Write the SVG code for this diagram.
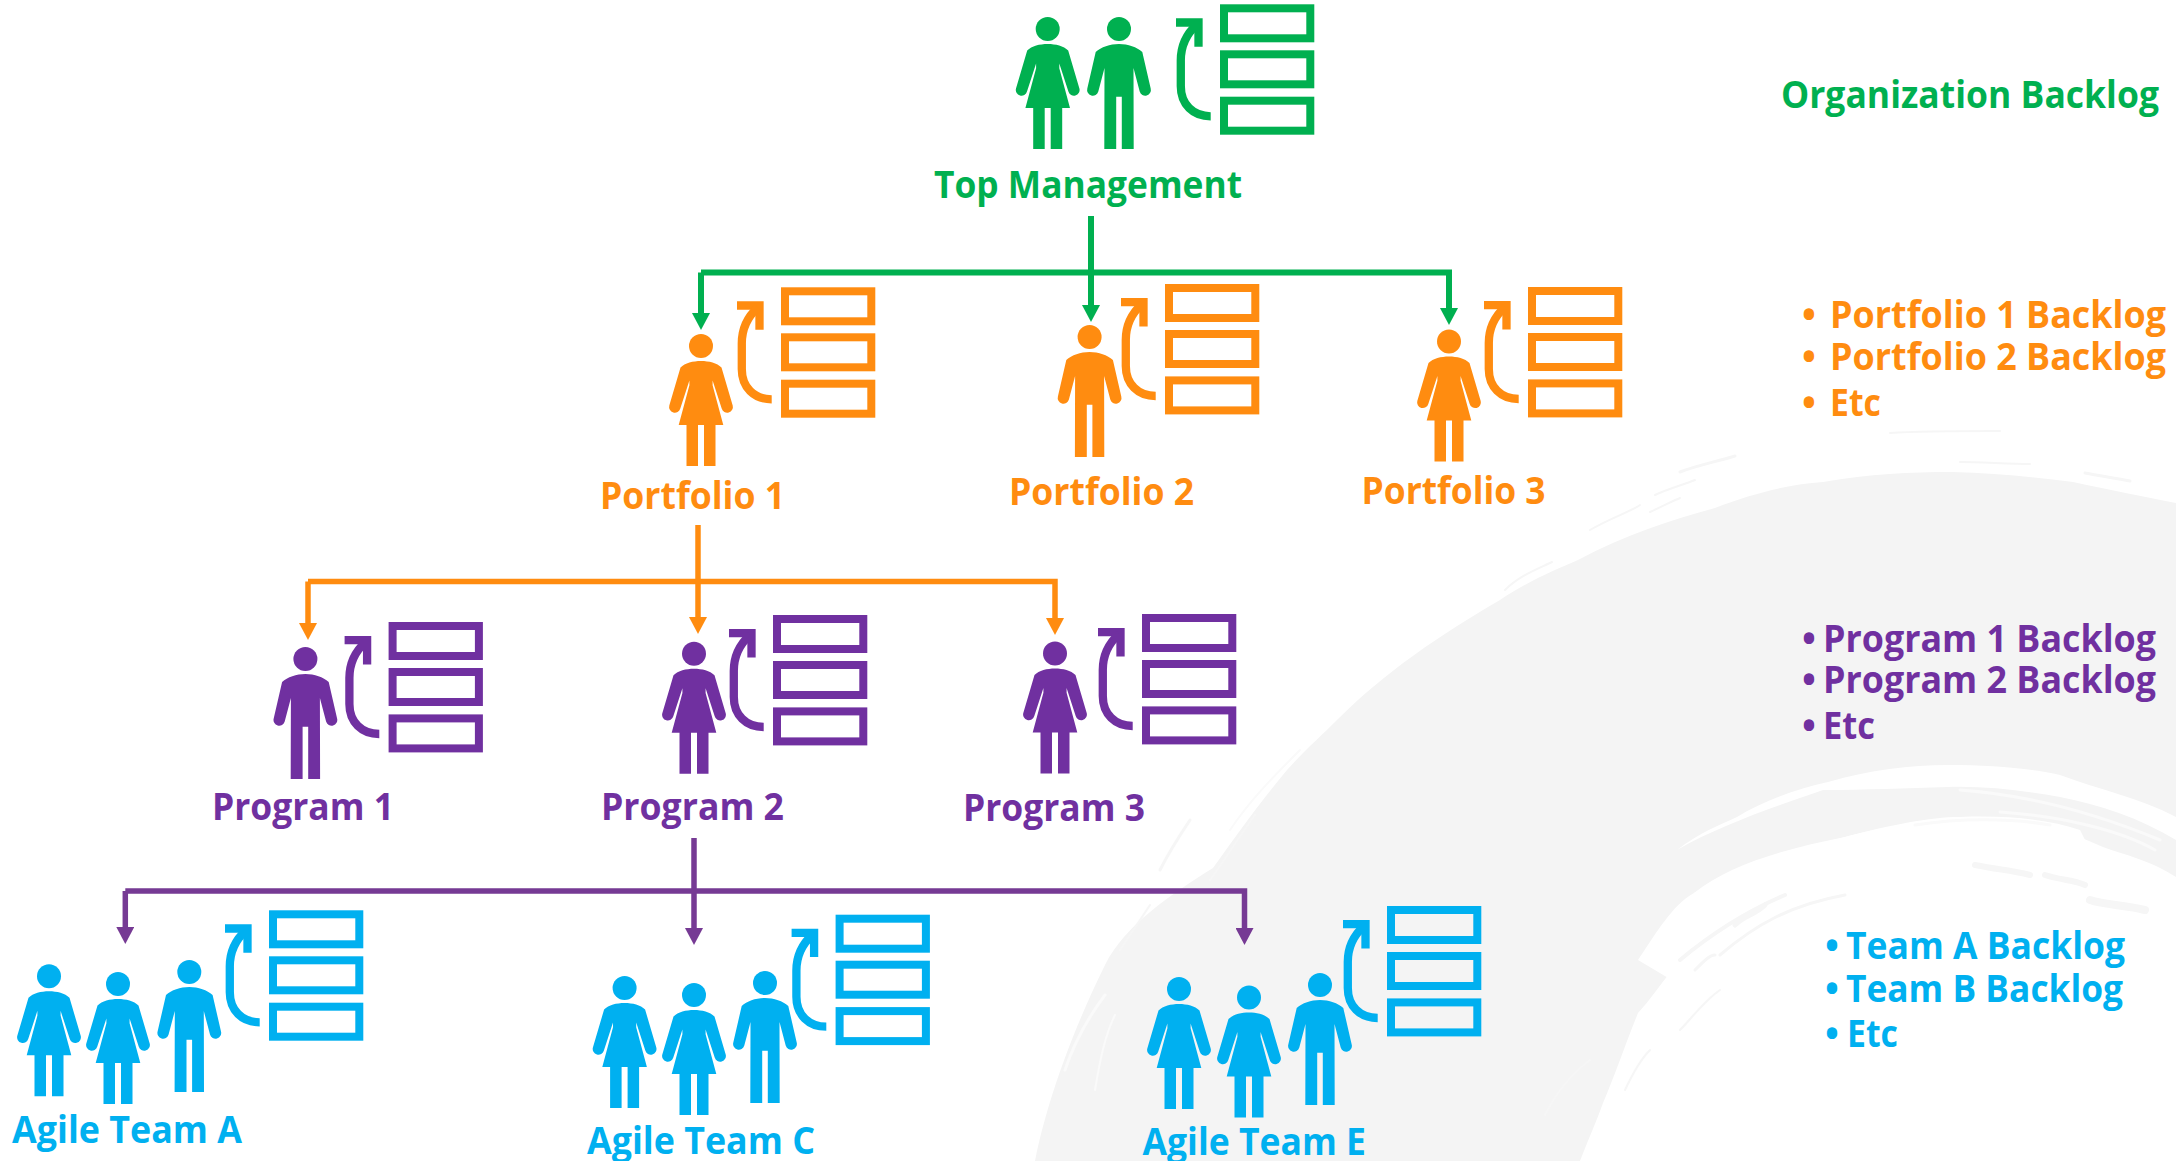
<svg xmlns="http://www.w3.org/2000/svg" xmlns:xlink="http://www.w3.org/1999/xlink" width="2176" height="1161" viewBox="0 0 2176 1161">
<style>
.green{color:#00B050;fill:#00B050}
.orange{color:#FF8C10;fill:#FF8C10}
.purple{color:#7030A0;fill:#7030A0}
.blue{color:#00B0F0;fill:#00B0F0}
text{font-family:"Open Sans","Noto Sans","Liberation Sans",sans-serif;font-weight:700;font-size:37px}
.link{fill:none;stroke-width:5.5}
.sg{fill:none;stroke:#F6F6F6;stroke-linecap:round}
.sw{fill:none;stroke:#FAFAFA;stroke-linecap:round}
</style>
<defs>
<g id="female" fill="currentColor"><circle cx="0" cy="0" r="12"/><path d="M0 15C8 15 16 17 20.500 21.500L31.700 59.500A5.700 5.700 0 0 1 20.700 62.500L11.600 34.500 11.600 39.300 22.300 79 14.500 79 14.500 120 3 120 3 79-3 79-3 120-14.500 120-14.500 79-22.300 79-11.600 39.300-11.600 34.500-20.700 62.500A5.700 5.700 0 0 1-31.700 59.500L-20.500 21.500C-16 17-8 15 0 15Z"/></g>
<g id="male" fill="currentColor"><circle cx="0" cy="0" r="12"/><path d="M0 15C9 15 18 18 23.300 23L31.700 59.500A5.700 5.700 0 0 1 20.700 62.500L14.500 39 14.700 120 2.800 120 2.800 67.700-2.800 67.700-2.800 120-14.700 120-14.500 39-20.700 62.500A5.700 5.700 0 0 1-31.700 59.500L-23.300 23C-18 18-9 15 0 15Z"/></g>
<g id="backlog" fill="none" stroke="currentColor" stroke-width="8"><rect x="4" y="4" width="86.300" height="30"/><rect x="4" y="50" width="86.300" height="30"/><rect x="4" y="96.400" width="86.300" height="30"/><path d="M-44 18.200H-21.500V42.400" stroke-width="8.300"/><path d="M-9.300 112C-27 112-39.200 100-39.200 82V56C-39.200 42-33 29-23 20" stroke-width="8.300"/></g>
<marker id="ahG" markerUnits="userSpaceOnUse" markerWidth="18" markerHeight="18" refX="0" refY="9" orient="auto"><path d="M0 0L17 9 0 18Z" fill="#00B050"/></marker>
<marker id="ahO" markerUnits="userSpaceOnUse" markerWidth="18" markerHeight="18" refX="0" refY="9" orient="auto"><path d="M0 0L17 9 0 18Z" fill="#FF8C10"/></marker>
<marker id="ahP" markerUnits="userSpaceOnUse" markerWidth="18" markerHeight="18" refX="0" refY="9" orient="auto"><path d="M0 0L17 9 0 18Z" fill="#763A94"/></marker>
</defs>
<rect width="2176" height="1161" fill="#FFFFFF"/>
<g id="background">
<path fill="#F4F4F4" d="M1035 1161C1045 1110 1068 1040 1105 965C1125 925 1170 895 1213 868C1240 830 1262 800 1287 770C1305 750 1322 735 1337 720C1385 672 1440 635 1500 600C1530 580 1555 570 1578 560C1625 535 1670 520 1715 508C1750 494 1790 484 1823 482C1870 474 1910 472 1952 472C1995 473 2035 477 2073 482C2110 490 2145 497 2176 503V877C2150 860 2125 855 2103 847C2075 835 2045 822 2017 820C1985 818 1960 818 1931 820C1900 825 1870 830 1845 837C1815 845 1785 852 1759 863C1735 872 1715 882 1694 893C1685 915 1680 945 1672 970C1660 985 1650 1000 1638 1013C1625 1045 1615 1075 1603 1103C1595 1125 1588 1140 1580 1161Z"/>
<path fill="#FFFFFF" d="M1677 850C1700 832 1720 825 1737 817C1765 800 1800 788 1828 782C1870 770 1910 765 1948 765C1990 765 2030 768 2060 775C2100 790 2140 798 2176 817V840C2140 818 2100 805 2060 797C2020 790 1985 786 1948 787C1905 788 1865 790 1823 790C1780 805 1720 825 1677 850Z"/>
<path fill="#FFFFFF" d="M1638 960C1655 935 1672 905 1694 893C1730 865 1780 850 1845 837C1890 825 1930 817 1960 817C2010 815 2050 820 2080 830L2090 850 1900 865 1780 905 1680 985Z"/>
<g class="sg">
<path stroke-width="4" d="M1680 960C1710 935 1745 912 1785 895"/>
<path stroke-width="3" d="M1720 955C1755 925 1790 905 1845 895"/>
<path stroke-width="5" d="M1735 925C1745 915 1755 915 1765 905"/>
<path stroke-width="3" d="M1695 970C1705 960 1710 955 1715 955"/>
<path stroke-width="6" d="M1975 865C2000 870 2010 870 2030 875"/>
<path stroke-width="6" d="M2045 875C2060 880 2075 880 2085 885"/>
<path stroke-width="8" d="M2090 900C2105 905 2125 905 2145 910"/>
<path stroke-width="2" d="M1680 1030C1690 1020 1705 1000 1720 990"/>
<path stroke-width="2" d="M1625 1090C1632 1075 1640 1060 1650 1050"/>
<path stroke-width="2" d="M1545 1115C1555 1095 1570 1075 1590 1060"/>
<path stroke-width="2" d="M1890 433C1920 431 1960 431 2000 431"/>
<path stroke-width="2" d="M1960 462C1980 462 2010 464 2030 464"/>
<path stroke-width="3" d="M1680 472C1695 466 1715 462 1735 456"/>
<path stroke-width="2" d="M1655 495C1670 488 1680 486 1695 480"/>
<path stroke-width="2" d="M1590 530C1610 518 1630 512 1640 505"/>
<path stroke-width="2" d="M1650 512C1665 505 1675 500 1680 498"/>
<path stroke-width="3" d="M2085 473C2100 476 2115 478 2130 481"/>
<path stroke-width="2" d="M1505 590C1520 575 1540 568 1552 562"/>
<path stroke-width="2" d="M1210 880C1225 860 1240 835 1255 815"/>
<path stroke-width="3" d="M1160 870C1170 850 1180 835 1190 820"/>
<path stroke-width="2" d="M1120 950C1130 935 1140 920 1150 905"/>
</g>
<g class="sw">
<path stroke="#FFFFFF" stroke-width="4" d="M1830 870C1860 862 1890 858 1910 855"/>
<path stroke="#FFFFFF" stroke-width="3" d="M1895 850C1940 842 1985 842 2010 846"/>
<path stroke="#FFFFFF" stroke-width="4" d="M1990 830C2040 835 2080 850 2100 855"/>
<path stroke-width="3" d="M2000 812C2060 816 2120 830 2155 850"/>
<path stroke-width="3" d="M1960 790C2030 795 2100 815 2160 840"/>
<path stroke-width="3" d="M1915 825C1960 818 2010 818 2050 825"/>
<path stroke-width="3" d="M1065 1070C1075 1040 1090 1015 1105 995"/>
<path stroke-width="2" d="M1095 1090C1100 1060 1105 1035 1115 1015"/>
<path stroke-width="2" d="M1230 830C1250 800 1275 775 1300 750"/>
</g>
</g>
<g id="connectors">
<path class="link" style="stroke-width:6" stroke="#00B050" d="M1091 216V305" marker-end="url(#ahG)"/>
<path class="link" style="stroke-width:6" stroke="#00B050" d="M701 272.500H1449V308" marker-end="url(#ahG)"/>
<path class="link" style="stroke-width:6" stroke="#00B050" d="M701 272.500V313" marker-end="url(#ahG)"/>
<path class="link" stroke="#FF8C10" d="M698 525V617" marker-end="url(#ahO)"/>
<path class="link" stroke="#FF8C10" d="M308 581.500H1055V618" marker-end="url(#ahO)"/>
<path class="link" stroke="#FF8C10" d="M308 581.500V623" marker-end="url(#ahO)"/>
<path class="link" stroke="#763A94" d="M694 838V928" marker-end="url(#ahP)"/>
<path class="link" stroke="#763A94" d="M125.300 891H1244.500V928" marker-end="url(#ahP)"/>
<path class="link" stroke="#763A94" d="M125.300 891V927" marker-end="url(#ahP)"/>
</g>
<g id="top-management" class="green">
<use href="#female" x="1047.700" y="29"/><use href="#male" x="1119" y="29"/><use href="#backlog" x="1220" y="4.300"/>
<text x="934" y="197.700" textLength="308" lengthAdjust="spacingAndGlyphs">Top Management</text>
</g>
<g id="portfolio-1" class="orange">
<use href="#female" x="701" y="346"/><use href="#backlog" x="781" y="287.300"/>
<text x="600" y="509" textLength="185" lengthAdjust="spacingAndGlyphs">Portfolio 1</text>
</g>
<g id="portfolio-2" class="orange">
<use href="#male" x="1089.600" y="337"/><use href="#backlog" x="1165" y="284"/>
<text x="1009" y="505" textLength="185" lengthAdjust="spacingAndGlyphs">Portfolio 2</text>
</g>
<g id="portfolio-3" class="orange">
<use href="#female" x="1449" y="341.400"/><use href="#backlog" x="1528" y="287"/>
<text x="1361.600" y="503.700" textLength="184" lengthAdjust="spacingAndGlyphs">Portfolio 3</text>
</g>
<g id="program-1" class="purple">
<use href="#male" x="305.400" y="659"/><use href="#backlog" x="388.600" y="622"/>
<text x="212" y="820" textLength="182" lengthAdjust="spacingAndGlyphs">Program 1</text>
</g>
<g id="program-2" class="purple">
<use href="#female" x="694" y="653.800"/><use href="#backlog" x="773" y="615"/>
<text x="601" y="820" textLength="183" lengthAdjust="spacingAndGlyphs">Program 2</text>
</g>
<g id="program-3" class="purple">
<use href="#female" x="1055" y="653.500"/><use href="#backlog" x="1142" y="614"/>
<text x="963" y="821" textLength="182" lengthAdjust="spacingAndGlyphs">Program 3</text>
</g>
<g id="team-a" class="blue">
<use href="#female" x="49" y="976.300"/><use href="#female" x="118" y="984"/><use href="#male" x="189.300" y="972"/><use href="#backlog" x="269" y="910.300"/>
<text x="12" y="1142.700" textLength="230" lengthAdjust="spacingAndGlyphs">Agile Team A</text>
</g>
<g id="team-c" class="blue">
<use href="#female" x="624.600" y="988"/><use href="#female" x="694" y="995"/><use href="#male" x="765" y="983"/><use href="#backlog" x="835.600" y="914.700"/>
<text x="587" y="1154" textLength="228" lengthAdjust="spacingAndGlyphs">Agile Team C</text>
</g>
<g id="team-e" class="blue">
<use href="#female" x="1179" y="989"/><use href="#female" x="1249" y="997.500"/><use href="#male" x="1320" y="985"/><use href="#backlog" x="1387" y="906"/>
<text x="1142.500" y="1155" textLength="223.500" lengthAdjust="spacingAndGlyphs">Agile Team E</text>
</g>
<g id="organization-backlog" class="green">
<text x="1781" y="108" textLength="378" lengthAdjust="spacingAndGlyphs">Organization Backlog</text>
</g>
<g id="portfolio-backlogs" class="orange">
<text y="327.700"><tspan x="1802">•</tspan><tspan x="1830" textLength="336" lengthAdjust="spacingAndGlyphs">Portfolio 1 Backlog</tspan></text>
<text y="370.300"><tspan x="1802">•</tspan><tspan x="1830" textLength="336" lengthAdjust="spacingAndGlyphs">Portfolio 2 Backlog</tspan></text>
<text y="416"><tspan x="1802">•</tspan><tspan x="1830" textLength="51" lengthAdjust="spacingAndGlyphs">Etc</tspan></text>
</g>
<g id="program-backlogs" class="purple">
<text y="651.600"><tspan x="1802">•</tspan><tspan x="1823" textLength="333" lengthAdjust="spacingAndGlyphs">Program 1 Backlog</tspan></text>
<text y="693"><tspan x="1802">•</tspan><tspan x="1823" textLength="333" lengthAdjust="spacingAndGlyphs">Program 2 Backlog</tspan></text>
<text y="738.600"><tspan x="1802">•</tspan><tspan x="1823" textLength="52" lengthAdjust="spacingAndGlyphs">Etc</tspan></text>
</g>
<g id="team-backlogs" class="blue">
<text y="959"><tspan x="1825">•</tspan><tspan x="1846" textLength="279" lengthAdjust="spacingAndGlyphs">Team A Backlog</tspan></text>
<text y="1002"><tspan x="1825">•</tspan><tspan x="1846" textLength="277" lengthAdjust="spacingAndGlyphs">Team B Backlog</tspan></text>
<text y="1047"><tspan x="1825">•</tspan><tspan x="1847" textLength="51" lengthAdjust="spacingAndGlyphs">Etc</tspan></text>
</g>
</svg>
